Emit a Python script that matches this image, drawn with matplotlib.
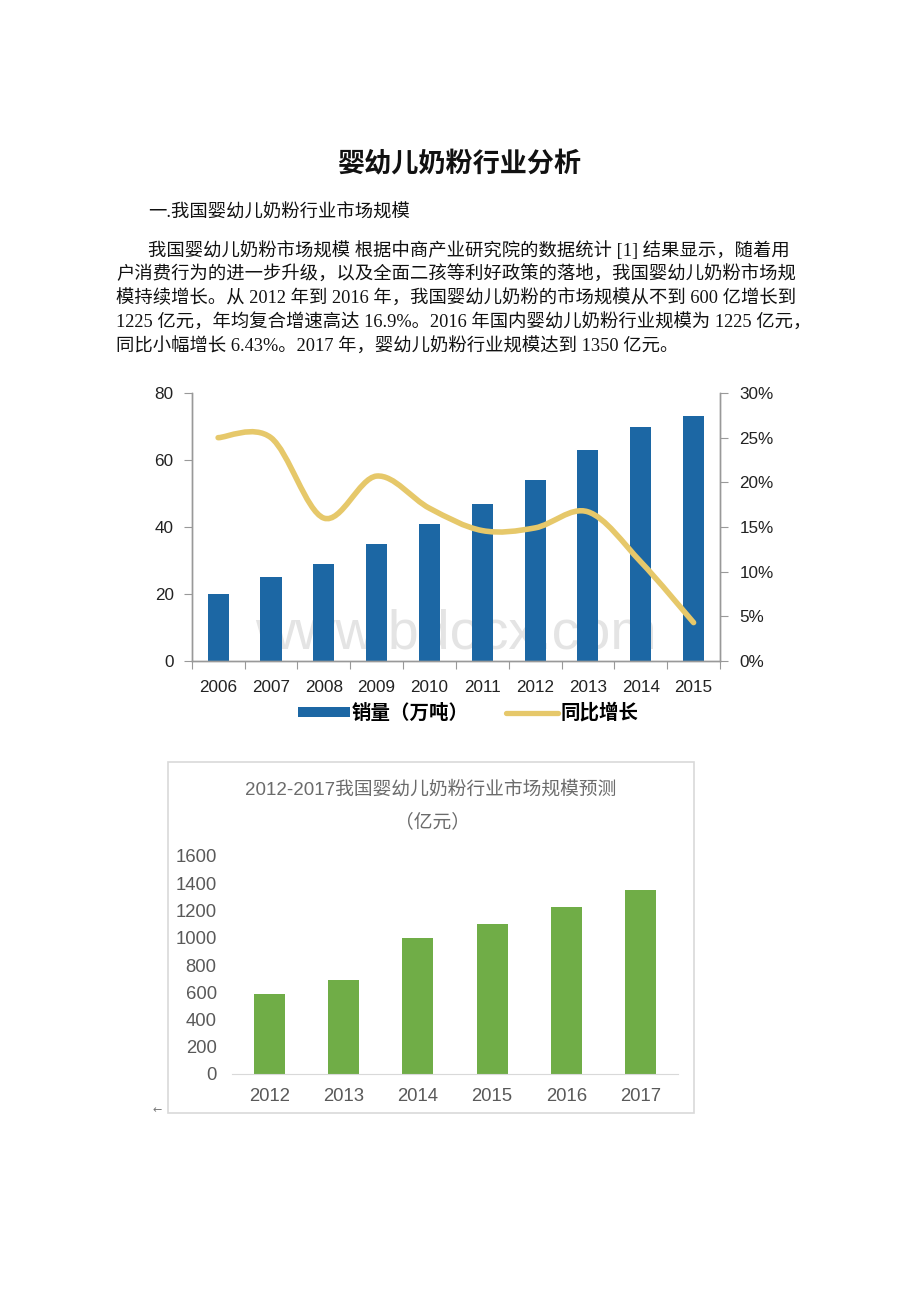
import matplotlib
matplotlib.use("Agg")
import matplotlib.pyplot as plt
from matplotlib.path import Path
from matplotlib.patches import PathPatch, Patch, Rectangle
from matplotlib.lines import Line2D
from matplotlib.ticker import FuncFormatter

plt.rcParams['font.family'] = ['Liberation Sans', 'Noto Sans CJK SC']

# page text
title = "婴幼儿奶粉行业分析"
heading = "一.我国婴幼儿奶粉行业市场规模"
body_lines = [
    "我国婴幼儿奶粉市场规模 根据中商产业研究院的数据统计 [1] 结果显示，随着用",
    "户消费行为的进一步升级，以及全面二孩等利好政策的落地，我国婴幼儿奶粉市场规",
    "模持续增长。从 2012 年到 2016 年，我国婴幼儿奶粉的市场规模从不到 600 亿增长到",
    "1225 亿元，年均复合增速高达 16.9%。2016 年国内婴幼儿奶粉行业规模为 1225 亿元，",
    "同比小幅增长 6.43%。2017 年，婴幼儿奶粉行业规模达到 1350 亿元。",
]

# chart 1: sales volume and yoy growth
years1 = ["2006", "2007", "2008", "2009", "2010", "2011", "2012", "2013", "2014", "2015"]
sales = [20, 25, 29, 35, 41, 47, 54, 63, 70, 73]
growth = [0.250, 0.250, 0.160, 0.207, 0.171, 0.146, 0.149, 0.167, 0.111, 0.043]

# chart 2: market size forecast
years2 = ["2012", "2013", "2014", "2015", "2016", "2017"]
market = [585, 690, 1000, 1100, 1225, 1350]

W, H = 920, 1302
fig = plt.figure(figsize=(W / 100, H / 100), dpi=100)
fig.patch.set_facecolor("white")

def fx(px):
    return px / W

def fy(py):
    return 1 - py / H

serif_cjk = ['Liberation Serif', 'Noto Sans CJK SC']
fig.text(fx(460), fy(165), title, ha="center", va="center", fontsize=19.5,
         fontweight="bold", family=serif_cjk, color="#111111")
fig.text(fx(148), fy(213), heading, ha="left", va="center", fontsize=13.2,
         family=serif_cjk, color="#111111")
starts = [148, 116, 116, 116, 116]
ys = [251, 275, 299, 323, 347]
for s, yy, line in zip(starts, ys, body_lines):
    fig.text(fx(s), fy(yy), line, ha="left", va="center", fontsize=13.2,
             family=serif_cjk, color="#111111")

# ---------- chart 1 ----------
ax1 = fig.add_axes([fx(191.7), fy(661), fx(720) - fx(191.7), (661 - 393) / H])
ax2 = ax1.twinx()
x1 = list(range(len(years1)))
ax1.bar(x1, sales, width=0.4, color="#1c67a4", zorder=2)
ax1.set_xlim(-0.5, len(years1) - 0.5)
ax1.set_ylim(0, 80)
ax1.set_yticks([0, 20, 40, 60, 80])
ax1.set_xticks([i - 0.5 for i in range(len(years1) + 1)])
ax1.set_xticklabels([])
ax1.set_xticks(x1, minor=True)
ax1.set_xticklabels(years1, minor=True)
ax1.tick_params(axis="x", which="minor", length=0, pad=14, labelsize=12.3, colors="#222222")
ax1.tick_params(axis="x", which="major", length=6, color="#999999", direction="out")
ax1.tick_params(axis="y", length=6, color="#999999", labelsize=12.3, labelcolor="#222222", pad=7)
for sp in ["top"]:
    ax1.spines[sp].set_visible(False)
    ax2.spines[sp].set_visible(False)
for ax in (ax1, ax2):
    for sp in ["left", "right", "bottom"]:
        ax.spines[sp].set_color("#999999")
        ax.spines[sp].set_linewidth(1)

ax1.text(0.5, 0.1, "www.bdocx.com", transform=ax1.transAxes, ha="center", va="center",
         fontsize=40, color="#e4e4e4", zorder=1, family="Liberation Sans")

# smoothed growth line (Catmull-Rom style bezier through the data points)
pts = list(zip(x1, growth))
verts = [pts[0]]
codes = [Path.MOVETO]
for i in range(len(pts) - 1):
    p0 = pts[i - 1] if i > 0 else pts[i]
    p1 = pts[i]
    p2 = pts[i + 1]
    p3 = pts[i + 2] if i + 2 < len(pts) else pts[i + 1]
    c1 = (p1[0] + (p2[0] - p0[0]) / 6, p1[1] + (p2[1] - p0[1]) / 6)
    c2 = (p2[0] - (p3[0] - p1[0]) / 6, p2[1] - (p3[1] - p1[1]) / 6)
    verts += [c1, c2, p2]
    codes += [Path.CURVE4] * 3
ax2.add_patch(PathPatch(Path(verts, codes), facecolor="none", edgecolor="#e6c86a",
                        linewidth=4.0, capstyle="round", zorder=3))
ax2.set_ylim(0, 0.30)
ax2.set_yticks([0, 0.05, 0.10, 0.15, 0.20, 0.25, 0.30])
ax2.yaxis.set_major_formatter(FuncFormatter(lambda v, p: f"{v * 100:.0f}%"))
ax2.tick_params(axis="y", length=6, color="#999999", labelsize=12.3, labelcolor="#222222", pad=8)

handles = [Patch(facecolor="#1c67a4", edgecolor="none"),
           Line2D([], [], color="#e6c86a", linewidth=3.8, solid_capstyle="round")]
fig.legend(handles, ["销量（万吨）", "同比增长"], loc="center", ncol=2,
           bbox_to_anchor=(fx(468), fy(713)), frameon=False, handlelength=2.7,
           handleheight=0.45, handletextpad=0.1, columnspacing=1.9,
           prop={"family": "Noto Sans CJK SC", "weight": "bold", "size": 14})

# ---------- chart 2 ----------
fig.patches.append(Rectangle((fx(168), fy(1113)), fx(694) - fx(168), (1113 - 762) / H,
                             transform=fig.transFigure, facecolor="none",
                             edgecolor="#d9d9d9", linewidth=1.2))
fig.text(fx(431), fy(790), "2012-2017我国婴幼儿奶粉行业市场规模预测", ha="center", va="center",
         fontsize=13.5, color="#6b6b6b", family=["Liberation Sans", "Noto Sans CJK SC"])
fig.text(fx(433), fy(822), "（亿元）", ha="center", va="center",
         fontsize=13.5, color="#6b6b6b", family="Noto Sans CJK SC")

ax3 = fig.add_axes([fx(232), fy(1074), fx(678) - fx(232), (1074 - 856) / H])
x2 = list(range(len(years2)))
ax3.bar(x2, market, width=0.42, color="#70ad47", zorder=2)
ax3.set_xlim(-0.5, len(years2) - 0.5)
ax3.set_ylim(0, 1600)
ax3.set_yticks(range(0, 1601, 200))
ax3.set_xticks(x2)
ax3.set_xticklabels(years2)
for sp in ["top", "right", "left"]:
    ax3.spines[sp].set_visible(False)
ax3.spines["bottom"].set_color("#d9d9d9")
ax3.tick_params(axis="both", length=0, labelsize=13.3, labelcolor="#595959")
ax3.tick_params(axis="y", pad=11)
ax3.tick_params(axis="x", pad=10)

fig.text(fx(157), fy(1110), "←", ha="center", va="center", fontsize=8, color="#777777",
         family="DejaVu Sans")

fig.savefig("out.png", dpi=100, facecolor="white")
